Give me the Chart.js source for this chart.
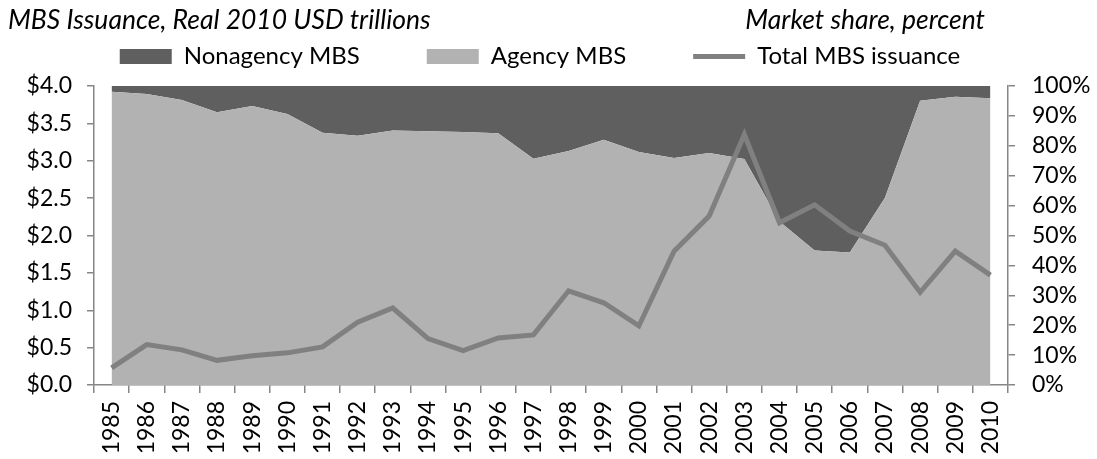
<!DOCTYPE html>
<html>
<head>
<meta charset="utf-8">
<script src="https://cdn.jsdelivr.net/npm/chart.js@4"></script>
<style>
  body { margin: 0; background: #fff; }
  #wrap { position: relative; width: 1097px; height: 459px; font-family: Lato, sans-serif; }
  .head { position: absolute; top: 3px; font-style: italic; font-size: 26.5px; color: #000; white-space: nowrap; }
</style>
</head>
<body>
<div id="wrap">
  <canvas id="myChart"></canvas>
  <div class="head" style="left:8px">MBS Issuance, Real 2010 USD trillions</div>
  <div class="head" style="right:112px">Market share, percent</div>
</div>
<script>
var years = ['1985', '1986', '1987', '1988', '1989', '1990', '1991', '1992', '1993', '1994', '1995', '1996', '1997',
             '1998', '1999', '2000', '2001', '2002', '2003', '2004', '2005', '2006', '2007', '2008', '2009', '2010'];

// market share, percent
var agencyShare = [98.1, 97.3, 95.3, 91.2, 93.3, 90.6, 84.4, 83.4, 85.1, 84.9, 84.6, 84.2, 75.7,
                   78.3, 82.0, 77.9, 75.9, 77.6, 75.6, 54.7, 45.0, 44.3, 62.6, 95.1, 96.4, 95.9];
var nonagencyShare = [1.9, 2.7, 4.7, 8.8, 6.7, 9.4, 15.6, 16.6, 14.9, 15.1, 15.4, 15.8, 24.3,
                      21.7, 18.0, 22.1, 24.1, 22.4, 24.4, 45.3, 55.0, 55.7, 37.4, 4.9, 3.6, 4.1];

// total issuance, real 2010 USD trillions
var totalIssuance = [0.23, 0.54, 0.47, 0.33, 0.39, 0.43, 0.51, 0.84, 1.03, 0.62, 0.46, 0.63, 0.67,
                     1.26, 1.10, 0.79, 1.79, 2.26, 3.35, 2.17, 2.41, 2.06, 1.87, 1.24, 1.79, 1.47];

var legendOrder = ['Nonagency MBS', 'Agency MBS', 'Total MBS issuance'];
var axisGrey = '#868686';
var tickFont = { family: 'Lato', size: 23 };

var ctx = document.getElementById('myChart');
var chart = new Chart(ctx, {
    type: 'line',
    data: {
        labels: years,
        datasets: [
          {
            label: 'Agency MBS',
            data: agencyShare,
            yAxisID: 'yPct',
            backgroundColor: '#b2b2b2',
            borderWidth: 0,
            fill: 'origin',
            pointRadius: 0,
            pointStyle: 'rect',
            order: 2
          },
          {
            label: 'Nonagency MBS',
            data: nonagencyShare,
            yAxisID: 'yPct',
            backgroundColor: '#5f5f5f',
            borderWidth: 0,
            fill: '-1',
            pointRadius: 0,
            pointStyle: 'rect',
            order: 2
          },
          {
            label: 'Total MBS issuance',
            data: totalIssuance,
            yAxisID: 'y',
            borderColor: '#808080',
            backgroundColor: '#808080',
            borderWidth: 5,
            fill: false,
            pointRadius: 0,
            pointStyle: 'line',
            order: 1
          }
        ]
    },
    options: {
        responsive: true,
        maintainAspectRatio: false,
        animation: false,
        // wide legend spacing: the legend box starts above the canvas
        layout: { padding: { top: -22.5, left: -17 } },
        plugins: {
            tooltip: { enabled: false },
            legend: {
                position: 'top',
                labels: {
                    sort: function (a, b) { return legendOrder.indexOf(a.text) - legendOrder.indexOf(b.text); },
                    usePointStyle: true,
                    pointStyleWidth: 52,
                    boxHeight: 15,
                    padding: 67,
                    color: '#000',
                    font: { family: 'Lato', size: 24 }
                }
            },
            // empty title used as a small gap between legend and plot
            title: {
                display: true,
                text: '',
                weight: 500,
                padding: 0,
                font: { size: 6, lineHeight: 1.25 }
            }
        },
        scales: {
            x: {
                offset: true,
                grid: { offset: true, drawOnChartArea: false, color: axisGrey, tickLength: 8, lineWidth: 1.5 },
                border: { color: axisGrey, width: 1.5 },
                ticks: { color: '#000', font: tickFont, minRotation: 90, maxRotation: 90, autoSkip: false, padding: 8 },
                afterFit: function (s) { s.height = 74; }
            },
            y: {
                position: 'left',
                min: 0,
                max: 4,
                grid: { drawOnChartArea: false, color: axisGrey, tickLength: 7, lineWidth: 1.5 },
                border: { color: axisGrey, width: 1.5 },
                ticks: {
                    stepSize: 0.5,
                    autoSkip: false,
                    color: '#000',
                    font: tickFont,
                    padding: 15,
                    callback: function (v) { return '$' + v.toFixed(1); }
                },
                afterFit: function (s) { s.width = 111; }
            },
            yPct: {
                position: 'right',
                stacked: true,
                min: 0,
                max: 100,
                grid: { drawOnChartArea: false, color: axisGrey, tickLength: 7, lineWidth: 1.5 },
                border: { color: axisGrey, width: 1.5 },
                ticks: {
                    stepSize: 10,
                    autoSkip: false,
                    color: '#000',
                    font: tickFont,
                    padding: 17,
                    callback: function (v) { return v + '%'; }
                },
                afterFit: function (s) { s.width = 89; }
            }
        }
    }
});
</script>
</body>
</html>
